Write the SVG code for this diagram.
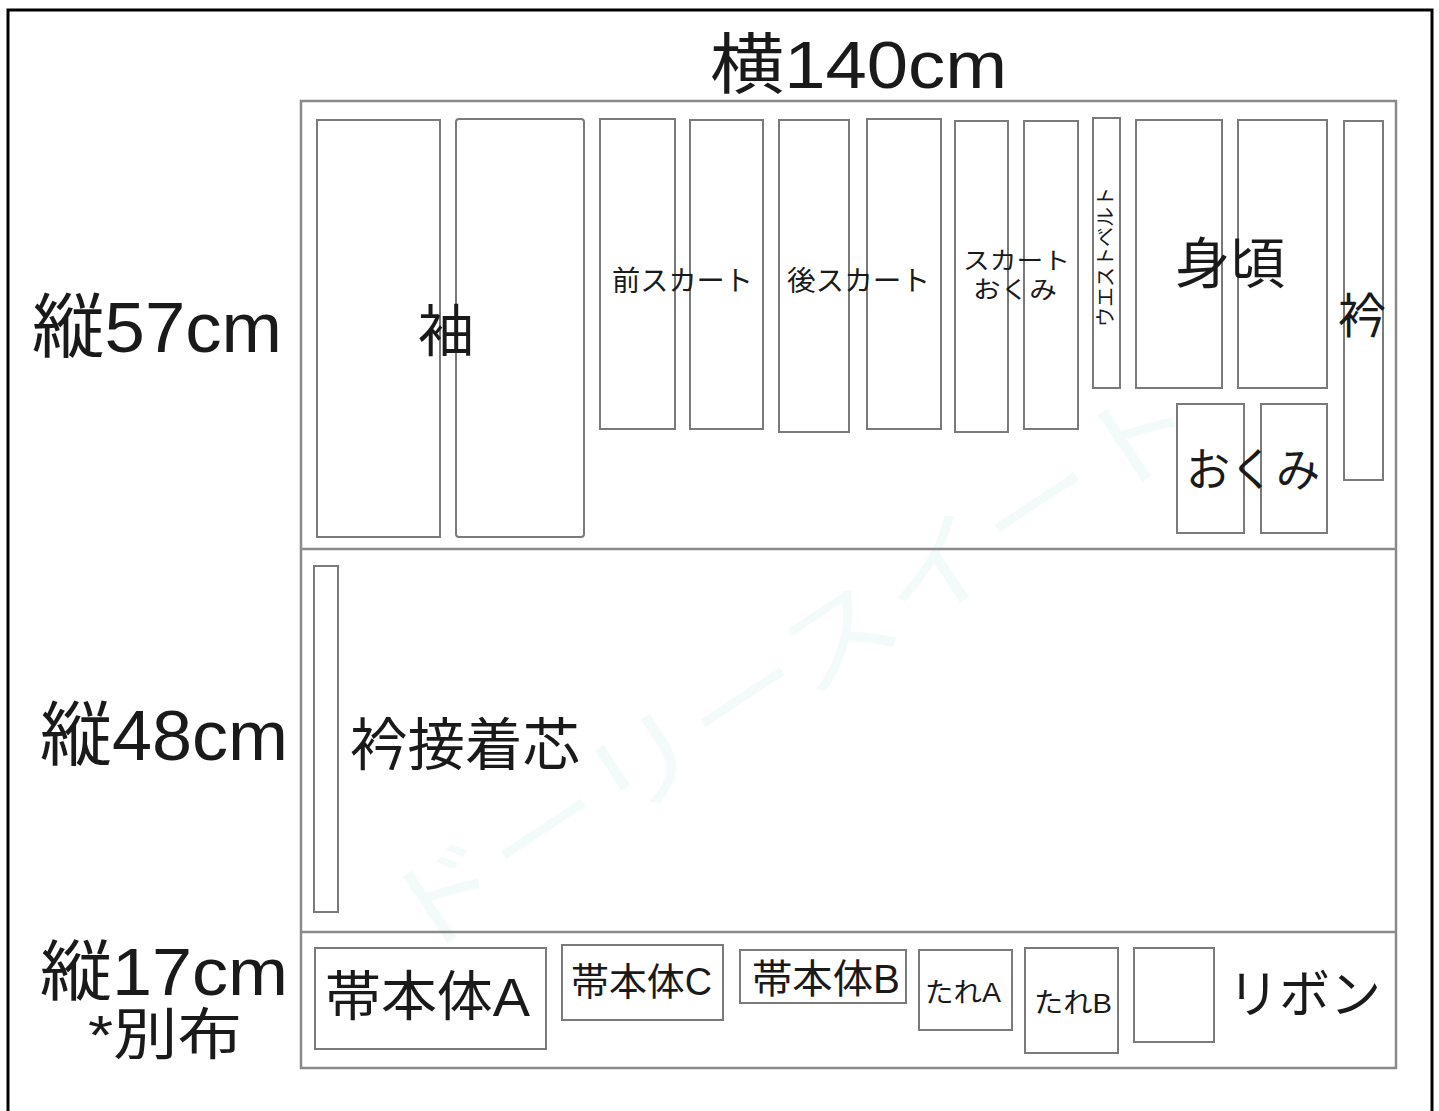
<svg xmlns="http://www.w3.org/2000/svg" width="1439" height="1111" viewBox="0 0 1439 1111">
<style>
.frame{fill:#fff;stroke:#000;stroke-width:3}
.cloth{fill:none;stroke:#8a8a8a;stroke-width:2.5}
.div{stroke:#8a8a8a;stroke-width:2.5}
.pc{fill:none;stroke:#7a7a7a;stroke-width:2}
.t{font-family:"Liberation Sans","Noto Sans CJK JP",sans-serif;fill:#1a1a1a}
.j{font-family:"Noto Sans CJK JP","Noto Sans",sans-serif;fill:#1a1a1a}
.wm{font-family:"Noto Sans CJK JP",sans-serif;fill:#c8f0ec;opacity:0.22}
</style>
<rect class="frame" x="8" y="10" width="1424" height="1115"/>
<text class="wm" font-size="100" textLength="950" lengthAdjust="spacingAndGlyphs" transform="translate(415,960) rotate(-33.5)">ドーリースイート</text>

<g id="labels">
<text class="t" x="710" y="88" font-size="66" textLength="297" lengthAdjust="spacingAndGlyphs">横140cm</text>
<text class="t" x="32" y="352" font-size="70" textLength="250" lengthAdjust="spacingAndGlyphs">縦57cm</text>
<text class="t" x="40" y="760" font-size="70" textLength="248" lengthAdjust="spacingAndGlyphs">縦48cm</text>
<text class="t" x="40" y="995" font-size="66" textLength="248" lengthAdjust="spacingAndGlyphs">縦17cm</text>
<text class="t" x="88" y="1054" font-size="56" textLength="154" lengthAdjust="spacingAndGlyphs">*別布</text>
</g>

<g id="cloth">
<rect class="cloth" x="301" y="101" width="1095" height="967"/>
</g>
<g id="connectors">
<line class="div" x1="301" y1="549" x2="1396" y2="549"/>
<line class="div" x1="301" y1="932" x2="1396" y2="932"/>
</g>

<g id="sode">
<rect class="pc" x="317" y="120" width="123" height="417"/>
<rect class="pc" x="456" y="119" width="128" height="418" rx="3"/>
<text class="j" x="446" y="351" font-size="56" text-anchor="middle">袖</text>
</g>
<g id="mae-skirt">
<rect class="pc" x="600" y="119" width="75" height="310"/>
<rect class="pc" x="690" y="120" width="73" height="309"/>
<text class="j" x="612" y="291" font-size="28" textLength="141" lengthAdjust="spacingAndGlyphs">前スカート</text>
</g>
<g id="ushiro-skirt">
<rect class="pc" x="779" y="120" width="70" height="312"/>
<rect class="pc" x="867" y="119" width="74" height="310"/>
<text class="j" x="787" y="291" font-size="28" textLength="143" lengthAdjust="spacingAndGlyphs">後スカート</text>
</g>
<g id="skirt-okumi">
<rect class="pc" x="955" y="121" width="53" height="311"/>
<rect class="pc" x="1024" y="121" width="54" height="308"/>
<text class="t" x="963" y="269" font-size="24" textLength="107" lengthAdjust="spacingAndGlyphs">スカート</text>
<text class="t" x="1015" y="298" font-size="24" text-anchor="middle" textLength="84" lengthAdjust="spacingAndGlyphs">おくみ</text>
</g>
<g id="waist-belt">
<rect class="pc" x="1093" y="118" width="27" height="270"/>
<text class="j" font-size="20" text-anchor="middle" textLength="140" lengthAdjust="spacingAndGlyphs" transform="translate(1113,257) rotate(-90)">ウエストベルト</text>
</g>
<g id="migoro">
<rect class="pc" x="1136" y="120" width="86" height="268"/>
<rect class="pc" x="1238" y="120" width="89" height="268"/>
<text class="j" x="1230" y="283" font-size="55" text-anchor="middle">身頃</text>
</g>
<g id="eri">
<rect class="pc" x="1344" y="121" width="39" height="359"/>
<text class="j" x="1362" y="333" font-size="48" text-anchor="middle">衿</text>
</g>
<g id="okumi">
<rect class="pc" x="1177" y="404" width="67" height="129"/>
<rect class="pc" x="1261" y="404" width="66" height="129"/>
<text class="j" x="1253" y="486" font-size="46" text-anchor="middle" textLength="134" lengthAdjust="spacingAndGlyphs">おくみ</text>
</g>

<g id="eri-shin">
<rect class="pc" x="314" y="566" width="24" height="346"/>
<text class="j" x="350" y="765" font-size="57" textLength="230" lengthAdjust="spacingAndGlyphs">衿接着芯</text>
</g>

<g id="obi-a">
<rect class="pc" x="315" y="948" width="231" height="101"/>
<text class="t" x="325" y="1016" font-size="54" textLength="205" lengthAdjust="spacingAndGlyphs">帯本体A</text>
</g>
<g id="obi-c">
<rect class="pc" x="562" y="945" width="161" height="75"/>
<text class="t" x="571" y="995" font-size="38" textLength="141" lengthAdjust="spacingAndGlyphs">帯本体C</text>
</g>
<g id="obi-b">
<rect class="pc" x="740" y="950" width="166" height="53"/>
<text class="t" x="752" y="993" font-size="40" textLength="148" lengthAdjust="spacingAndGlyphs">帯本体B</text>
</g>
<g id="tare-a">
<rect class="pc" x="919" y="950" width="93" height="80"/>
<text class="t" x="925" y="1002" font-size="27" textLength="76" lengthAdjust="spacingAndGlyphs">たれA</text>
</g>
<g id="tare-b">
<rect class="pc" x="1025" y="948" width="93" height="105"/>
<text class="t" x="1034" y="1013" font-size="28" textLength="78" lengthAdjust="spacingAndGlyphs">たれB</text>
</g>
<g id="ribbon">
<rect class="pc" x="1134" y="948" width="80" height="94"/>
<text class="j" x="1228" y="1013" font-size="52" textLength="153" lengthAdjust="spacingAndGlyphs">リボン</text>
</g>
</svg>
